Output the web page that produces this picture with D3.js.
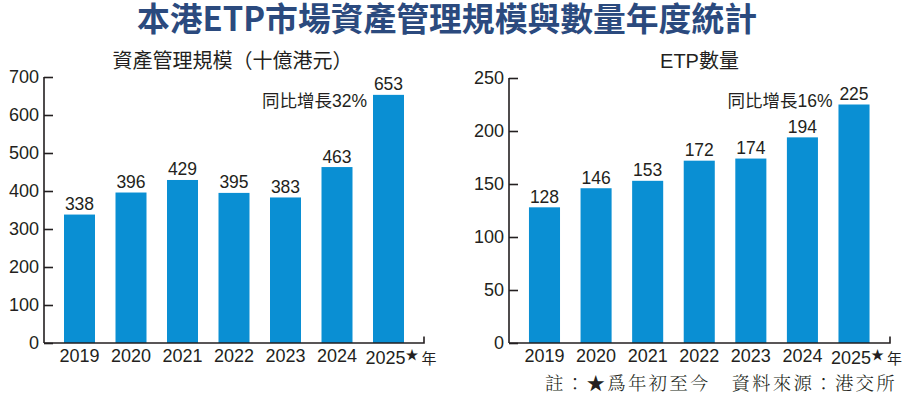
<!DOCTYPE html>
<html><head><meta charset="utf-8">
<script src="https://cdn.jsdelivr.net/npm/d3@7"></script>
<style>
html,body{margin:0;padding:0;background:#fff;}
svg{display:block;}
text{fill:#231f20;}
</style></head>
<body>
<svg id="c" width="907" height="393"></svg>
<script>
const years = ["2019","2020","2021","2022","2023","2024","2025"];
const aumValues = [338,396,429,395,383,463,653];
const etpCounts = [128,146,153,172,174,194,225];
const aumTicks = [0,100,200,300,400,500,600,700];
const etpTicks = [0,50,100,150,200,250];
const title = "本港ETP市場資產管理規模與數量年度統計";
const aumTitle = "資產管理規模（十億港元）";
const etpTitle = "ETP數量";
const aumNote = "同比增長32%";
const etpNote = "同比增長16%";
const footnote = "註：★爲年初至今　資料來源：港交所";

const svg = d3.select("#c");
const latin = "'Liberation Sans', Arial, 'Noto Sans CJK TC', sans-serif";
const cjk = "'Liberation Sans', 'Noto Sans CJK TC', sans-serif";
const barColor = "#0a8fd3";

svg.append("text").attr("x", 447).attr("y", 31)
  .attr("text-anchor","middle")
  .attr("textLength", 620).attr("lengthAdjust","spacingAndGlyphs")
  .style("font-family","'Noto Sans CJK TC', sans-serif")
  .style("font-weight","bold").style("font-size","33px")
  .style("fill","#2b4a7e").text(title);

function drawChart(cfg){
  const g = svg.append("g");
  const y = d3.scaleLinear().domain([0, cfg.max]).range([343, cfg.top]);
  const x = d3.scaleBand().domain(years).range(cfg.xr).paddingInner(0.398).paddingOuter(0.199);

  // y axis
  const ya = g.append("g").attr("transform",`translate(${cfg.ax},0)`)
    .call(d3.axisLeft(y).tickValues(cfg.ticks).tickSizeInner(-9).tickSizeOuter(0).tickPadding(5));
  ya.selectAll("path,line").attr("stroke","#231f20").attr("stroke-width",1.6);
  ya.selectAll("text").style("font-family",latin).style("font-size","18px").attr("fill","#231f20");
  ya.select(".domain").remove();
  g.append("line").attr("x1",cfg.ax).attr("x2",cfg.ax).attr("y1",y(cfg.max)).attr("y2",343)
    .attr("stroke","#231f20").attr("stroke-width",1.6);

  // bars
  g.selectAll("rect.bar").data(cfg.values).join("rect").attr("class","bar")
    .attr("x",(d,i)=>x(years[i])).attr("width",x.bandwidth())
    .attr("y",d=>y(d)).attr("height",d=>343-y(d)).attr("fill",barColor);

  // value labels
  g.selectAll("text.val").data(cfg.values).join("text").attr("class","val")
    .attr("x",(d,i)=>x(years[i])+x.bandwidth()/2).attr("y",d=>y(d)-4.5)
    .attr("text-anchor","middle").style("font-family",latin).style("font-size","17.5px")
    .text(d=>d);

  // x axis
  g.append("path").attr("d",`M${cfg.ax},343H${cfg.axEnd}V336.5`)
    .attr("fill","none").attr("stroke","#231f20").attr("stroke-width",1.6);
  const xa = g.append("g").attr("transform","translate(0,343)")
    .call(d3.axisBottom(x).tickSize(0).tickPadding(19));
  xa.select(".domain").remove();
  xa.selectAll("text").style("font-family",latin).style("font-size","18px").attr("fill","#231f20")
    .attr("dy","0");
  const last = xa.selectAll(".tick").filter(d=>d===years[years.length-1]).select("text");
  last.text(null).attr("text-anchor","start").attr("x",-23).attr("dy","2");
  last.append("tspan").text(years[years.length-1]);
  last.append("tspan").text("★").style("font-size","13px").attr("dy","-5");
  last.append("tspan").text("年").style("font-size","15px").style("font-family","'Noto Sans CJK TC', sans-serif").attr("dy","5").attr("dx","3");

  // subtitle
  g.append("text").attr("x",cfg.subX).attr("y",68).attr("text-anchor","middle")
    .style("font-family",cjk).style("font-size","20px").text(cfg.sub);
  // note
  g.append("text").attr("x",x(years[6])-6).attr("y",107).attr("text-anchor","end")
    .style("font-family",cjk).style("font-size","17.5px").text(cfg.note);
}

drawChart({values:aumValues, ticks:aumTicks, max:700, top:77, ax:44, axEnd:424,
  xr:[53.75,414.25], sub:aumTitle, subX:232.5, note:aumNote});
drawChart({values:etpCounts, ticks:etpTicks, max:250, top:78, ax:509, axEnd:890,
  xr:[518.7,879.8], sub:etpTitle, subX:699.5, note:etpNote});

svg.append("text").attr("x",897).attr("y",389.5).attr("text-anchor","end")
  .style("font-family","'Noto Serif CJK TC','Noto Serif CJK SC',serif,'Noto Sans CJK TC'")
  .style("font-weight","300")
  .style("font-size","18.5px").style("letter-spacing","2.2px").text(footnote);
</script>
</body></html>
